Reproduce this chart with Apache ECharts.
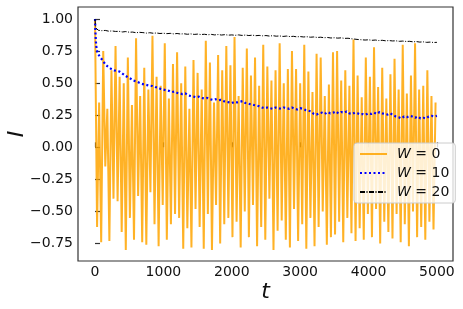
<!DOCTYPE html>
<html>
<head>
<meta charset="utf-8">
<script src="https://cdn.jsdelivr.net/npm/echarts@6/dist/echarts.min.js"></script>
<style>
html,body{margin:0;padding:0;background:#fff;}
#chart{width:463px;height:309px;}
</style>
</head>
<body>
<div id="chart"></div>
<script>
// Tick labels
const xTicks = [0, 1000, 2000, 3000, 4000, 5000];
const yTicks = [-0.75, -0.5, -0.25, 0, 0.25, 0.5, 0.75, 1.0];

// W = 0 : sampled every 30 time units starting at t = 0
const dtW0 = 30;
const vW0 = [
 1.00,-0.62,0.35,-0.74,0.75,-0.15,0.30,-0.73,0.60,-0.40,
 0.79,-0.42,0.55,-0.66,0.50,-0.80,0.70,-0.55,0.33,-0.72,
 0.85,-0.38,0.40,-0.74,0.62,-0.76,0.45,-0.35,0.87,-0.60,
 0.55,-0.77,0.48,-0.45,0.81,-0.72,0.38,-0.60,0.65,-0.52,
 0.74,-0.55,0.50,-0.79,0.63,-0.63,0.30,-0.78,0.68,-0.48,
 0.58,-0.62,0.45,-0.79,0.83,-0.52,0.66,-0.80,0.35,-0.45,
 0.72,-0.75,0.60,-0.60,0.79,-0.55,0.64,-0.70,0.86,-0.58,
 0.40,-0.78,0.62,-0.50,0.77,-0.70,0.56,-0.45,0.70,-0.77,
 0.48,-0.62,0.80,-0.72,0.63,-0.40,0.52,-0.80,0.60,-0.65,
 0.81,-0.57,0.50,-0.72,0.61,-0.78,0.75,-0.48,0.61,-0.73,
 0.50,-0.60,0.80,-0.79,0.59,-0.55,0.43,-0.77,0.73,-0.62,
 0.70,-0.50,0.40,-0.76,0.49,-0.70,0.74,-0.68,0.75,-0.58,
 0.52,-0.74,0.60,-0.55,0.48,-0.67,0.84,-0.73,0.56,-0.63,
 0.39,-0.72,0.70,-0.52,0.55,-0.70,0.78,-0.48,0.47,-0.75,
 0.62,-0.58,0.38,-0.66,0.57,-0.71,0.69,-0.52,0.45,-0.74,
 0.80,-0.60,0.42,-0.77,0.56,-0.50,0.81,-0.70,0.45,-0.62,
 0.48,-0.72,0.60,-0.58,0.40,-0.64,0.35
];

// W = 10 : first few early points, then every 40 time units
const headW10 = [[0,1.00],[6,0.90],[12,0.83],[20,0.78],[30,0.75]];
const dtW10 = 40;
const vW10 = [
 0.73,0.70,0.67,0.64,0.625,0.61,0.60,0.595,0.59,0.575,
 0.56,0.545,0.535,0.52,0.515,0.505,0.495,0.49,0.485,0.48,
 0.478,0.47,0.465,0.455,0.45,0.445,0.44,0.43,0.435,0.425,
 0.42,0.415,0.42,0.405,0.40,0.395,0.39,0.395,0.385,0.38,
 0.385,0.375,0.37,0.375,0.365,0.37,0.36,0.355,0.35,0.345,
 0.355,0.35,0.355,0.36,0.345,0.34,0.335,0.33,0.325,0.32,
 0.31,0.305,0.31,0.305,0.30,0.31,0.305,0.30,0.31,0.305,
 0.30,0.31,0.30,0.295,0.305,0.30,0.29,0.285,0.28,0.26,
 0.255,0.265,0.27,0.26,0.275,0.265,0.27,0.28,0.265,0.275,
 0.27,0.28,0.265,0.26,0.27,0.265,0.255,0.26,0.255,0.265,
 0.26,0.27,0.26,0.275,0.265,0.26,0.255,0.265,0.25,0.24,
 0.235,0.225,0.24,0.235,0.245,0.24,0.23,0.24,0.225,0.23,
 0.225,0.24,0.245,0.24,0.245
];

// W = 20 : first early points, then every 50 time units
const headW20 = [[0,1.00],[10,0.93]];
const dtW20 = 50;
const vW20 = [
 0.912,0.909,0.911,0.905,0.907,0.903,0.904,0.899,0.902,0.897,
 0.898,0.893,0.896,0.894,0.890,0.893,0.889,0.891,0.887,0.889,
 0.886,0.888,0.884,0.887,0.883,0.885,0.881,0.884,0.880,0.882,
 0.879,0.881,0.877,0.880,0.876,0.879,0.875,0.878,0.874,0.876,
 0.873,0.876,0.872,0.875,0.871,0.874,0.870,0.872,0.869,0.871,
 0.867,0.870,0.866,0.868,0.864,0.867,0.863,0.865,0.861,0.863,
 0.860,0.862,0.858,0.860,0.856,0.858,0.854,0.856,0.852,0.854,
 0.851,0.853,0.849,0.850,0.846,0.843,0.840,0.838,0.836,0.838,
 0.834,0.836,0.832,0.834,0.830,0.832,0.829,0.830,0.826,0.828,
 0.825,0.826,0.822,0.824,0.820,0.822,0.818,0.820,0.817,0.818
];

const dataW0 = vW0.map((v, i) => [i * dtW0, v]);
const dataW10 = headW10.concat(vW10.map((v, i) => [(i + 1) * dtW10, v]));
const dataW20 = headW20.concat(vW20.map((v, i) => [(i + 1) * dtW20, v]));

const FONT = 'DejaVu Sans';
const fmtY = v => (v < 0 ? '\u2212' : '') + Math.abs(v).toFixed(2);
const fmtX = v => String(Math.round(v));

const chart = echarts.init(document.getElementById('chart'), null, {renderer: 'canvas'});
chart.setOption({
  animation: false,
  backgroundColor: '#fff',
  grid: {
    left: 78, right: 10, top: 7, bottom: 48,
    show: true, borderColor: '#333', borderWidth: 1.2,
    backgroundColor: 'transparent',
    containLabel: false,
    outerBoundsMode: 'none'
  },
  xAxis: {
    type: 'value', min: -249, max: 5235,
    axisLine: {show: false},
    splitLine: {show: false},
    axisTick: {show: true, inside: true, length: 5, customValues: xTicks,
      lineStyle: {color: '#333', width: 1.2}},
    axisLabel: {customValues: xTicks, margin: 4, color: '#111',
      fontFamily: FONT, fontSize: 14, formatter: fmtX},
    name: 't', nameLocation: 'middle', nameGap: 20, nameMoveOverlap: false,
    nameTextStyle: {fontFamily: FONT, fontStyle: 'italic', fontSize: 22, color: '#111'}
  },
  yAxis: {
    type: 'value', min: -0.886, max: 1.0935,
    axisLine: {show: false},
    splitLine: {show: false},
    axisTick: {show: true, inside: true, length: 5, customValues: yTicks,
      lineStyle: {color: '#333', width: 1.2}},
    axisLabel: {customValues: yTicks, margin: 5, color: '#111',
      fontFamily: FONT, fontSize: 14, formatter: fmtY},
    name: 'I', nameLocation: 'middle', nameGap: 50, nameRotate: 90, nameMoveOverlap: false,
    nameTextStyle: {fontFamily: FONT, fontStyle: 'italic', fontSize: 22, color: '#111'}
  },
  legend: {
    orient: 'vertical', left: 354, top: 143,
    padding: [4, 6, 4, 5], itemGap: 5, itemWidth: 27, itemHeight: 14,
    backgroundColor: 'rgba(255,255,255,0.8)', borderColor: '#ccc', borderWidth: 1, borderRadius: 3,
    itemStyle: {opacity: 0, borderWidth: 0},
    textStyle: {fontFamily: FONT, fontSize: 14, color: '#111', padding: [0, 0, 0, 5],
      rich: {i: {fontFamily: FONT, fontSize: 14, fontStyle: 'italic', color: '#111'}}},
    formatter: name => name.replace('W', '{i|W}'),
    data: ['W = 0', 'W = 10', 'W = 20']
  },
  series: [
    {name: 'W = 0', type: 'line', data: dataW0, symbol: 'none', z: 2,
      lineStyle: {color: '#FFA500', width: 2, opacity: 0.85}, itemStyle: {color: '#FFA500'}},
    {name: 'W = 10', type: 'line', data: dataW10, symbol: 'none', z: 3,
      lineStyle: {color: '#0000FF', width: 2.2, type: [2, 2.5]}, itemStyle: {color: '#0000FF'}},
    {name: 'W = 20', type: 'line', data: dataW20, symbol: 'none', z: 4,
      lineStyle: {color: '#000', width: 1, type: [5, 1.5, 1, 1.5]}, itemStyle: {color: '#000'}}
  ]
});
</script>
</body>
</html>
